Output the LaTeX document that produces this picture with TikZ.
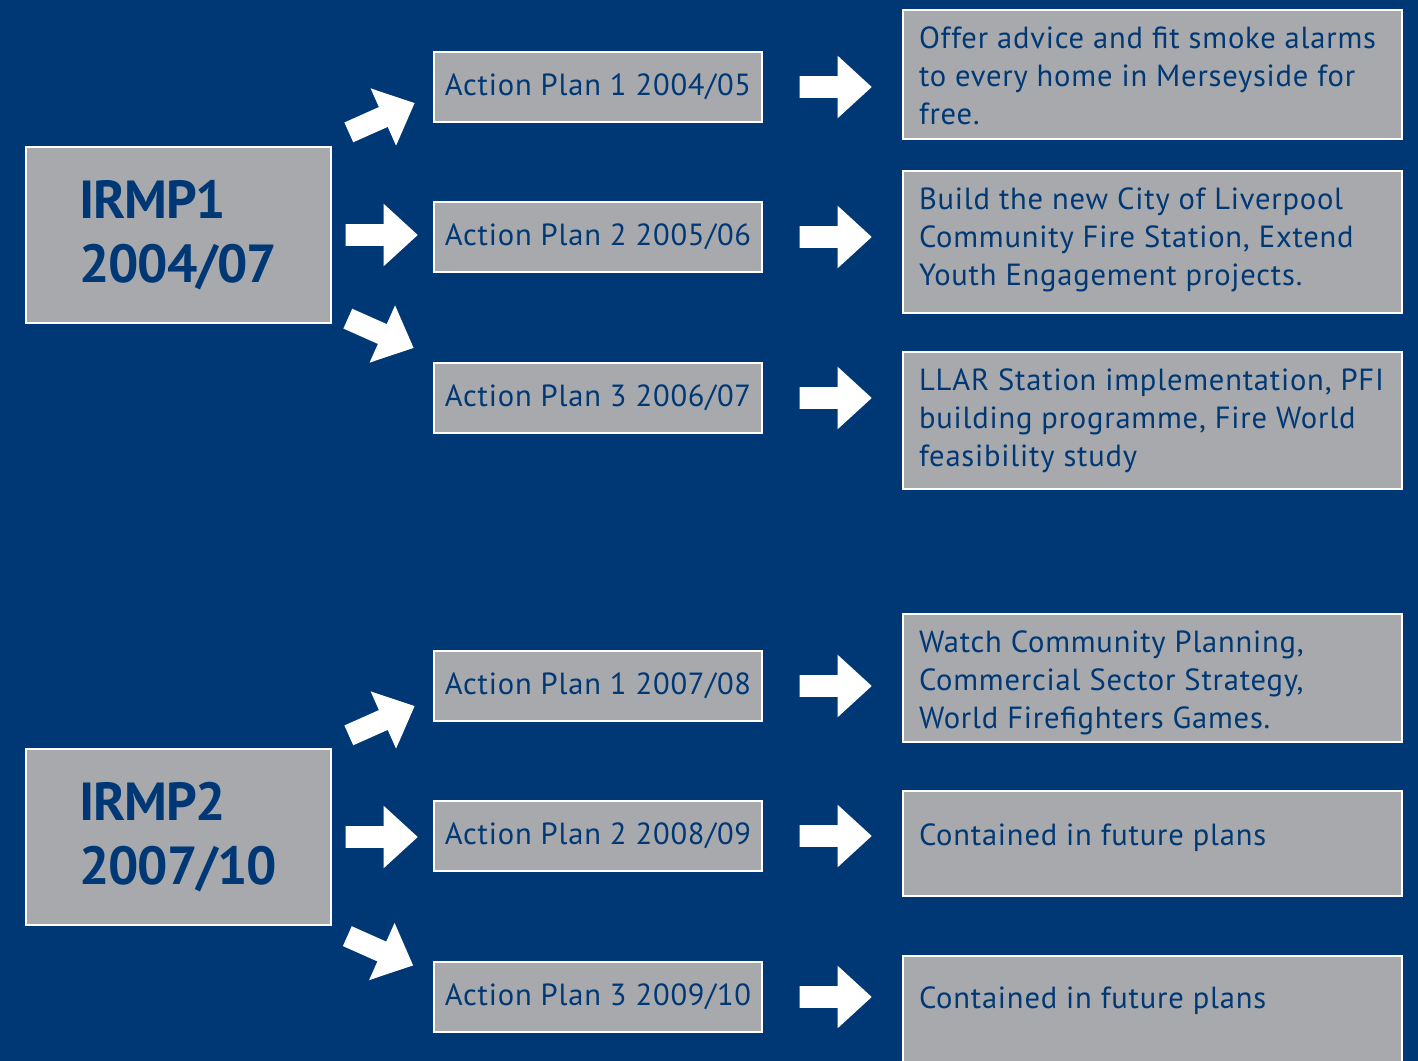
\documentclass[tikz,border=0pt]{standalone}
\usepackage{fontspec}
\setmainfont{PT Sans}[LetterSpace=2.6, BoldFeatures={LetterSpace=-2}]
\usepackage{tikz}
\usetikzlibrary{shapes.arrows,calc}
\definecolor{mfrsblue}{RGB}{0,56,118}
\definecolor{mfrsgrey}{RGB}{167,169,172}

\begin{document}
\begin{tikzpicture}[
    x=0.02cm, y=-0.02cm,
    greybox/.style={draw=white, fill=mfrsgrey, line width=1.6pt, inner sep=0pt},
    irmp box/.style={greybox, minimum width=6.1cm, minimum height=3.52cm,
        text width=3.98cm, text=mfrsblue, align=left,
        font=\fontsize{30.5}{36.3}\selectfont\bfseries},
    plan box/.style={greybox, minimum width=6.56cm, minimum height=1.4cm,
        text=mfrsblue, font=\fontsize{17.4}{21.5}\selectfont},
    task box/.style={greybox, minimum width=9.98cm},
    task text/.style={anchor=north west, inner sep=0pt, text=mfrsblue,
        align=left, font=\fontsize{17.4}{21.5}\selectfont},
    big arrow/.style={single arrow, fill=white, draw=none, anchor=tail,
        inner xsep=0pt, inner ysep=0.21cm, minimum height=1.44cm,
        single arrow head extend=0.41cm, single arrow tip angle=85}
    ]
    % Background
    \fill[mfrsblue] (0,0) rectangle (1418,1061);
    \useasboundingbox (0,0) rectangle (1418,1061);

    % First plan
    \node[irmp box] (irmp1) at (178.5,235) {IRMP1\\2004/07};
    \node[plan box] (ap11) at (598,87) {Action Plan 1 2004/05};
    \node[plan box] (ap12) at (598,237) {Action Plan 2 2005/06};
    \node[plan box] (ap13) at (598,398) {Action Plan 3 2006/07};
    \node[task box, minimum height=2.58cm] (r11) at (1152.5,74.5) {};
    \node[task box, minimum height=2.84cm] (r12) at (1152.5,242) {};
    \node[task box, minimum height=2.74cm] (r13) at (1152.5,420.5) {};
    \node[task text] (t11) at ([shift={(17,18)}]r11.north west)
        {Offer advice and fit smoke alarms\\to every home in Merseyside for\\free.};
    \node[task text] (t12) at ([shift={(17,18)}]r12.north west)
        {Build the new City of Liverpool\\Community Fire Station, Extend\\Youth Engagement projects.};
    \node[task text] (t13) at ([shift={(17,18)}]r13.north west)
        {LLAR Station implementation, PFI\\building programme, Fire World\\feasibility study};
    % arrows
    \node[big arrow, rotate=24] (a11) at (348.5,132.5) {};
    \node[big arrow] (a12) at ([shift={(13,0)}]irmp1.east) {};
    \node[big arrow, rotate=-24] (a13) at (347.5,318.5) {};
    \node[big arrow] (b11) at ([shift={(36,0)}]ap11.east) {};
    \node[big arrow] (b12) at ([shift={(36,0)}]ap12.east) {};
    \node[big arrow] (b13) at ([shift={(36,0)}]ap13.east) {};

    % Second plan
    \node[irmp box] (irmp2) at (178.5,837) {IRMP2\\2007/10};
    \node[plan box] (ap21) at (598,686) {Action Plan 1 2007/08};
    \node[plan box] (ap22) at (598,836) {Action Plan 2 2008/09};
    \node[plan box] (ap23) at (598,997) {Action Plan 3 2009/10};
    \node[task box, minimum height=2.56cm] (r21) at (1152.5,678) {};
    \node[task box, minimum height=2.1cm] (r22) at (1152.5,843.5) {};
    \node[task box, minimum height=2.2cm] (r23) at (1152.5,1011) {};
    \node[task text] (t21) at ([shift={(17,18)}]r21.north west)
        {Watch Community Planning,\\Commercial Sector Strategy,\\World Firefighters Games.};
    \node[task text] (t22) at ([shift={(17,34)}]r22.north west)
        {Contained in future plans};
    \node[task text] (t23) at ([shift={(17,32)}]r23.north west)
        {Contained in future plans};
    % arrows
    \node[big arrow, rotate=24] (a21) at (348.5,735.5) {};
    \node[big arrow] (a22) at ([shift={(13,0)}]irmp2.east) {};
    \node[big arrow, rotate=-24] (a23) at (347,936) {};
    \node[big arrow] (b21) at ([shift={(36,0)}]ap21.east) {};
    \node[big arrow] (b22) at ([shift={(36,0)}]ap22.east) {};
    \node[big arrow] (b23) at ([shift={(36,0)}]ap23.east) {};
\end{tikzpicture}
\end{document}
